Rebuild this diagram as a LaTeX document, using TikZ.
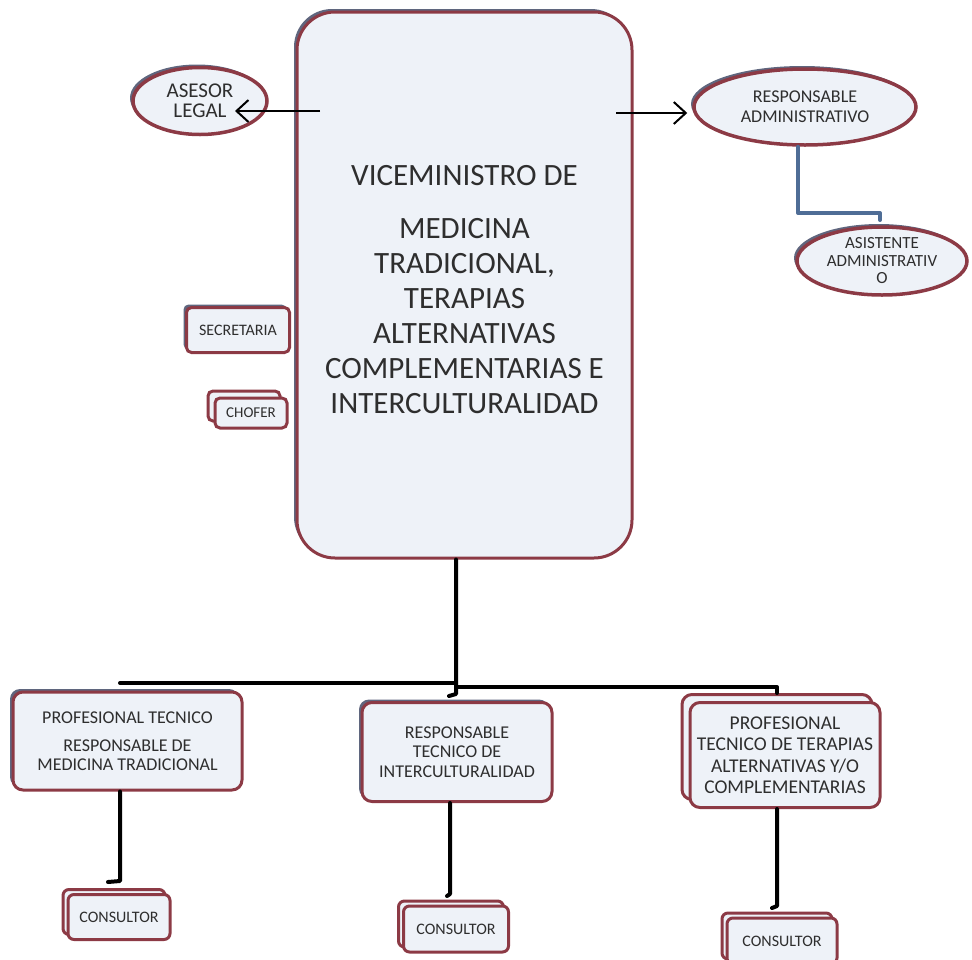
\documentclass[tikz,border=0pt]{standalone}
\usepackage{fontspec}
\setmainfont{Carlito}
\usetikzlibrary{shapes.geometric, shadows, arrows.meta}
\definecolor{boxfill}{HTML}{EEF2F8}
\definecolor{boxline}{HTML}{8C3A45}
\definecolor{shadowc}{HTML}{4E5570}
\definecolor{txt}{HTML}{2E2E2E}
\definecolor{linkblue}{HTML}{4F6D96}
\tikzset{
  every node/.style={text=txt, align=center, inner sep=0pt},
  unitbox/.style={draw=boxline, fill=boxfill, line width=3pt, rounded corners=8pt,
    drop shadow={shadow xshift=-3pt, shadow yshift=3pt, fill=shadowc, opacity=.9}},
  stacked/.style={draw=boxline, fill=boxfill, line width=3pt, rounded corners=6pt,
    copy shadow={shadow xshift=-#1, shadow yshift=#1}},
  stacked/.default=5pt,
  ovalbox/.style={ellipse, draw=boxline, fill=boxfill, line width=3.5pt,
    drop shadow={shadow xshift=-3pt, shadow yshift=3pt, fill=shadowc, opacity=.9}},
  conn/.style={line width=4pt, line cap=round, line join=round},
  bconn/.style={conn, draw=linkblue},
  arr/.style={-{Straight Barb[length=12pt,width=22pt]}, line width=2pt},
}

\begin{document}
\begin{tikzpicture}[x=1pt,y=-1pt]
  \useasboundingbox (0,0) rectangle (972,959);

  % top level
  \node[unitbox, rounded corners=38pt, minimum width=335pt, minimum height=546pt,
        font=\fontsize{31}{35}\selectfont, text height=266pt, text depth=10pt]
        (vice) at (464.5,285)
        {VICEMINISTRO DE\\[18pt] MEDICINA\\ TRADICIONAL,\\ TERAPIAS\\ ALTERNATIVAS\\
         COMPLEMENTARIAS E\\ INTERCULTURALIDAD};

  \node[ovalbox, minimum width=134pt, minimum height=67pt,
        font=\fontsize{21}{20.5}\selectfont] (asesor) at (200,101) {ASESOR\\LEGAL};
  \node[ovalbox, minimum width=222pt, minimum height=76pt,
        font=\fontsize{18}{20}\selectfont] (respadm) at (805,107)
        {RESPONSABLE\\ADMINISTRATIVO};
  \node[ovalbox, minimum width=170pt, minimum height=68pt,
        font=\fontsize{17}{17.5}\selectfont] (asist) at (882,261)
        {ASISTENTE\\ADMINISTRATIV\\O};

  \node[unitbox, rounded corners=5pt, minimum width=103pt, minimum height=45pt,
        font=\fontsize{16}{16}\selectfont] (secre) at (238,330) {SECRETARIA};
  \node[stacked=7pt, rounded corners=5pt, minimum width=72pt, minimum height=30pt,
        font=\fontsize{15}{15}\selectfont] (chofer) at (251,413) {CHOFER};

  % technical units
  \node[unitbox, rounded corners=10pt, minimum width=229pt, minimum height=98pt,
        font=\fontsize{18}{19}\selectfont] (t1) at (127.5,741)
        {PROFESIONAL TECNICO\\[9pt] RESPONSABLE DE\\ MEDICINA TRADICIONAL};
  \node[unitbox, rounded corners=10pt, minimum width=190pt, minimum height=99pt,
        font=\fontsize{18}{19.5}\selectfont] (t2) at (457,752)
        {RESPONSABLE\\ TECNICO DE\\ INTERCULTURALIDAD};
  \node[stacked=8pt, rounded corners=10pt, minimum width=190pt, minimum height=105pt,
        font=\fontsize{19.5}{21.5}\selectfont] (t3) at (785,755)
        {PROFESIONAL\\ TECNICO DE TERAPIAS\\ ALTERNATIVAS Y/O\\ COMPLEMENTARIAS};

  \node[stacked, minimum width=102pt, minimum height=45pt,
        font=\fontsize{16}{16}\selectfont] (c1) at (119,917) {CONSULTOR};
  \node[stacked, minimum width=105pt, minimum height=46pt,
        font=\fontsize{16}{16}\selectfont] (c2) at (456,929) {CONSULTOR};
  \node[stacked, minimum width=110pt, minimum height=46pt,
        font=\fontsize{16}{16}\selectfont] (c3) at (782,941) {CONSULTOR};

  % connectors
  \coordinate (aL) at (320,111);
  \coordinate (aR) at (616,113);
  \draw[arr] (aL) -- (aL -| asesor.center) [shorten >=35pt];
  \draw[arr, shorten >=5pt] (aR) -- (aR -| respadm.west);

  \coordinate (b1) at (798,213);
  \coordinate (b2) at (880,213);
  \draw[bconn] (respadm.south -| b1) -- (b1) -- (b2) -- ++(0,7);

  \coordinate (barL) at (120,683);
  \coordinate (barM) at (456,686);
  \coordinate (barR) at (777,687);
  \draw[conn] (vice.south -| barM) -- (barM) -- ++(0,8) -- ++(-7,2);
  \draw[conn] (barL) -- (barL -| barM);
  \draw[conn] (barM |- barR) -- (barR) -- ++(0,6);

  \coordinate (e1) at (120,881);
  \coordinate (e2) at (450,894);
  \coordinate (e3) at (777,906);
  \draw[conn] (t1.south -| e1) -- (e1) -- ++(-12,1);
  \draw[conn] (t2.south -| e2) -- (e2) -- ++(-3,2);
  \draw[conn] (t3.south -| e3) -- (e3) -- ++(-5,2);
\end{tikzpicture}
\end{document}
